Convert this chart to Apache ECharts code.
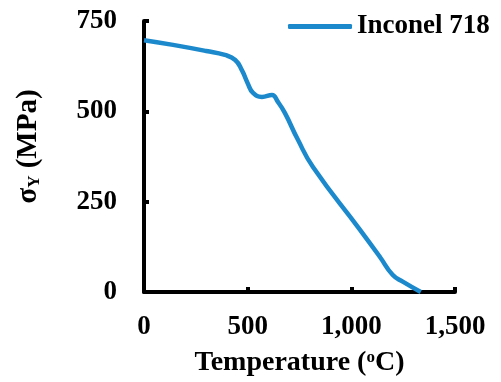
<!DOCTYPE html>
<html>
<head>
<meta charset="utf-8">
<script src="https://cdn.jsdelivr.net/npm/echarts@6/dist/echarts.min.js"></script>
<style>
  html, body { margin: 0; padding: 0; background: #fff; }
  #chart { width: 501px; height: 382px; }
</style>
</head>
<body>
<div id="chart"></div>
<script>
// temperature (°C) and yield strength (MPa)
const temps = [0, 140, 300, 390, 440, 472, 500, 526, 569, 617, 646, 680, 740, 815, 1042, 1138, 1200, 1250, 1335]
const sigma = [697, 684, 667, 656, 642, 614, 578, 551, 540, 545, 526, 495, 424, 346, 172, 97, 47, 28, 0]
const xTicks = [0, 500, 1000, 1500]
const yTicks = [0, 250, 500, 750]

const font = 'Liberation Serif'
const blue = '#1b89cc'
const chart = echarts.init(document.getElementById('chart'))

const axisCommon = {
  axisLine: { show: true, lineStyle: { color: '#000', width: 4 } },
  axisTick: { show: true, inside: true, length: 5, lineStyle: { color: '#000', width: 4 } },
  splitLine: { show: false },
  axisLabel: { color: '#000', fontFamily: font, fontWeight: 'bold', fontSize: 27 },
}

chart.setOption({
  backgroundColor: '#fff',
  animation: false,
  grid: { left: 144, right: 46, top: 21, bottom: 90 },
  legend: {
    left: 288,
    top: 13,
    padding: 0,
    icon: 'roundRect',
    itemWidth: 64,
    itemHeight: 5,
    textStyle: { color: '#000', fontFamily: font, fontWeight: 'bold', fontSize: 27 },
    data: ['Inconel 718'],
  },
  xAxis: {
    ...axisCommon,
    type: 'value',
    min: xTicks[0],
    max: xTicks[xTicks.length - 1],
    interval: 500,
    axisLabel: {
      ...axisCommon.axisLabel,
      margin: 22,
      formatter: (v) => v.toLocaleString('en-US'),
    },
    name: 'Temperature ({sup|o}C)',
    nameLocation: 'middle',
    nameGap: 57,
    nameTextStyle: {
      color: '#000', fontFamily: font, fontWeight: 'bold', fontSize: 28,
      rich: {
        sup: { fontFamily: font, fontWeight: 'bold', fontSize: 17, verticalAlign: 'top', lineHeight: 17 },
      },
    },
  },
  yAxis: {
    ...axisCommon,
    type: 'value',
    min: yTicks[0],
    max: yTicks[yTicks.length - 1],
    interval: 250,
    axisLabel: { ...axisCommon.axisLabel, margin: 27 },
    name: 'σ{sub|Y} (MPa)',
    nameLocation: 'middle',
    nameGap: 101,
    nameTextStyle: {
      color: '#000', fontFamily: font, fontWeight: 'bold', fontSize: 29,
      padding: [0, 0, 0, 20],
      rich: {
        sub: { fontFamily: font, fontWeight: 'bold', fontSize: 17, verticalAlign: 'bottom', lineHeight: 17 },
      },
    },
  },
  series: [
    {
      name: 'Inconel 718',
      type: 'line',
      data: temps.map((t, i) => [t, sigma[i]]),
      smooth: 0.5,
      symbol: 'none',
      lineStyle: { color: blue, width: 4.5 },
      itemStyle: { color: blue },
    },
  ],
})
</script>
</body>
</html>
